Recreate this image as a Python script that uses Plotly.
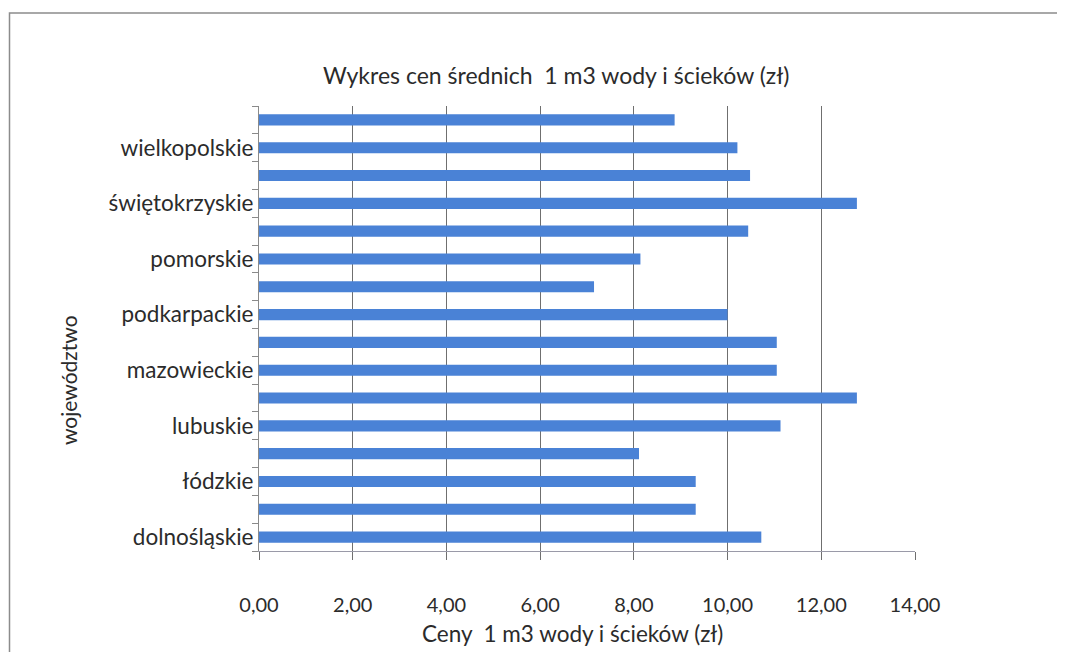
import plotly.graph_objects as go

# Categories (bottom to top, as in the chart)
categories = [
    "dolnośląskie", "kujawsko-pomorskie", "łódzkie", "lubelskie",
    "lubuskie", "małopolskie", "mazowieckie", "opolskie",
    "podkarpackie", "podlaskie", "pomorskie", "śląskie",
    "świętokrzyskie", "warmińsko-mazurskie", "wielkopolskie", "zachodniopomorskie",
]
prices = [10.72, 9.32, 9.32, 8.11, 11.13, 12.76, 11.05, 11.05,
          10.00, 7.15, 8.14, 10.44, 12.76, 10.48, 10.21, 8.87]
# Only every other category label is shown (as in the original chart)
tick_labels = [c if i % 2 == 0 else "" for i, c in enumerate(categories)]
x_ticks = [0, 2, 4, 6, 8, 10, 12, 14]

title_text = "Wykres cen średnich  1 m3 wody i ścieków (zł)"
x_title = "Ceny  1 m3 wody i ścieków (zł)"
y_title = "województwo"

FONT = "Lato, 'Open Sans', sans-serif"
TXT = "#2b2b2b"

fig = go.Figure(go.Bar(
    x=prices, y=categories, orientation="h",
    marker=dict(color="#4a82d6", line=dict(width=0)),
))

# page body has an 8px margin; coordinates below are relative to the figure
OFF = 8
W, H = 1065 - OFF, 652 - OFF
L, T = 259 - OFF, 106 - OFF
pw, ph = 656, 445
R, B = W - L - pw, H - T - ph


def px(xp):
    return (xp - OFF - L) / pw


def py(yp):
    return (T + ph - (yp - OFF)) / ph


fig.update_layout(
    width=W, height=H,
    margin=dict(l=L, r=R, t=T, b=B),
    paper_bgcolor="white", plot_bgcolor="white",
    separators=", ",
    bargap=0.6,
    showlegend=False,
    font=dict(family=FONT, color=TXT, size=19),
    xaxis=dict(
        range=[0, 14], tickvals=x_ticks, tickformat=".2f",
        showgrid=True, gridcolor="#6f6f6f", gridwidth=1,
        showline=True, linecolor="#9a9aa8", linewidth=1,
        ticks="outside", ticklen=8, tickcolor="#6f6f6f",
        ticklabelstandoff=28, zeroline=False,
        tickfont=dict(size=20, color=TXT),
    ),
    yaxis=dict(
        type="category", categoryorder="array", categoryarray=categories,
        tickmode="array", tickvals=categories, ticktext=tick_labels,
        tickson="boundaries", range=[-0.5, 15.5],
        showline=True, linecolor="#8a8a8a", linewidth=1,
        ticks="outside", ticklen=6, tickcolor="#8a8a8a",
        showgrid=False, tickfont=dict(size=22.5, color=TXT),
    ),
    annotations=[
        dict(text=title_text, xref="paper", yref="paper",
             x=px(556), y=py(75), showarrow=False,
             xanchor="center", yanchor="middle", font=dict(size=23, color=TXT)),
        dict(text=x_title, xref="paper", yref="paper",
             x=px(572), y=py(633), showarrow=False,
             xanchor="center", yanchor="middle", font=dict(size=22.5, color=TXT)),
        dict(text=y_title, xref="paper", yref="paper",
             x=px(68), y=py(380), showarrow=False, textangle=-90,
             xanchor="center", yanchor="middle", font=dict(size=21, color=TXT)),
    ],
    shapes=[
        dict(type="rect", xref="paper", yref="paper",
             x0=px(9.5), x1=px(1100),
             y0=py(700), y1=py(13),
             line=dict(color="#8c8c8c", width=1.5), layer="below"),
    ],
)

fig.write_html("out.html")
